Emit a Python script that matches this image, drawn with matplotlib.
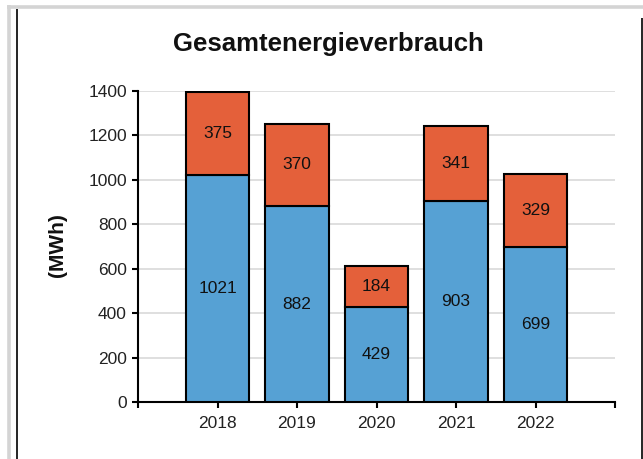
import matplotlib
matplotlib.use("Agg")
import matplotlib.pyplot as plt
from matplotlib.lines import Line2D
import numpy as np

plt.rcParams['font.family'] = ['Liberation Sans', 'DejaVu Sans']

years = ["2018", "2019", "2020", "2021", "2022"]
base_vals = [1021, 882, 429, 903, 699]
top_vals = [375, 370, 184, 341, 329]
yticks = [0, 200, 400, 600, 800, 1000, 1200, 1400]

W, H = 643, 459
fig = plt.figure(figsize=(W / 100, H / 100), dpi=100)
fig.patch.set_facecolor("white")

ax = fig.add_axes([138 / W, 1 - 402 / H, (615 - 138) / W, (402 - 91) / H])
x = np.arange(len(years))
blue = "#56A1D4"
orange = "#E4603A"
ax.bar(x, base_vals, width=0.8, color=blue, edgecolor="black", linewidth=1.5, zorder=3)
ax.bar(x, top_vals, bottom=base_vals, width=0.8, color=orange, edgecolor="black", linewidth=1.5, zorder=3)

for i in range(len(years)):
    ax.text(x[i], base_vals[i] / 2, str(base_vals[i]), ha="center", va="center",
            fontsize=12.5, color="#111111", zorder=4)
    ax.text(x[i], base_vals[i] + top_vals[i] / 2, str(top_vals[i]), ha="center", va="center",
            fontsize=12.5, color="#111111", zorder=4)

ax.set_xlim(-1, 5)
ax.set_ylim(0, 1400)
ax.set_xticks(list(x) + [-1, 5])
ax.set_xticklabels(years + ["", ""])
ax.set_yticks(yticks)
ax.set_yticklabels([str(v) for v in yticks])
ax.tick_params(axis="both", direction="out", length=4, width=1.5, color="black",
               labelsize=12.5, labelcolor="#222222", pad=4)
ax.tick_params(axis="x", pad=6)
ax.yaxis.grid(True, color="#d9d9d9", linewidth=1.2, zorder=0)
ax.set_axisbelow(True)
for s in ["top", "right"]:
    ax.spines[s].set_visible(False)
for s in ["left", "bottom"]:
    ax.spines[s].set_linewidth(1.5)
    ax.spines[s].set_color("black")

fig.text(328 / W, 1 - 51 / H, "Gesamtenergieverbrauch", ha="center", va="baseline",
         fontsize=18.5, fontweight="bold", color="#111111")
fig.text(58 / W, 1 - 245 / H, "(MWh)", ha="center", va="center", rotation=90,
         fontsize=15, fontweight="bold", color="#111111")

# screenshot frame
def fl(x0, y0, x1, y1, c, lw):
    fig.add_artist(Line2D([x0 / W, x1 / W], [1 - y0 / H, 1 - y1 / H], color=c,
                          linewidth=lw, transform=fig.transFigure, solid_capstyle="butt"))

fl(8.5, 5, 8.5, 459, "#d4d4d4", 2.6)
fl(7, 6.5, 643, 6.5, "#d4d4d4", 2.6)
fl(17, 9, 17, 459, "black", 1.2)
fl(642, 18, 642, 459, "black", 1.2)

fig.savefig("out.png", dpi=100, facecolor="white")
